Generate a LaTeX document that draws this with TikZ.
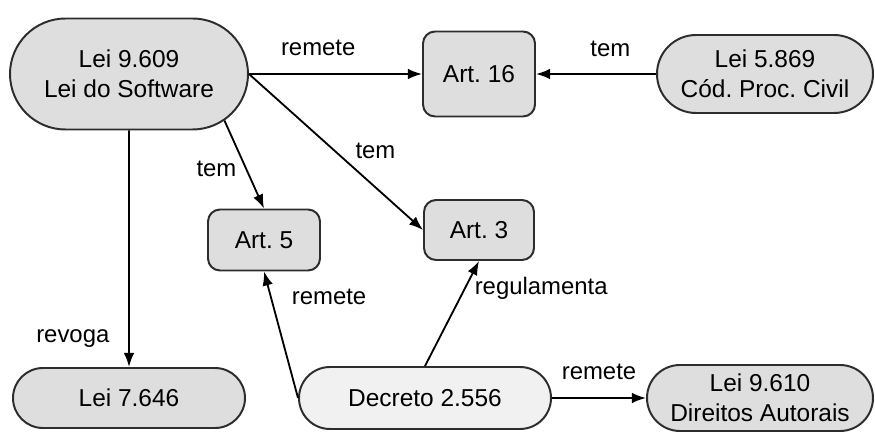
\documentclass[tikz,border=0pt]{standalone}
\usepackage{fontspec}
\setmainfont{Liberation Sans}
\usepackage{xcolor}
\usepackage{tikz}
\usetikzlibrary{shapes.misc,arrows.meta}
\frenchspacing
\definecolor{leigray}{RGB}{222,222,222}
\definecolor{decgray}{RGB}{241,241,241}
\definecolor{bordagray}{RGB}{45,45,45}
\tikzstyle{lei} = [rounded rectangle, text centered, align=center, draw = bordagray, fill = leigray, line width=1.4pt, inner sep=0pt, font=\fontsize{17.4}{21.3}\selectfont]
\tikzstyle{artigo} = [rectangle, rounded corners=0.3cm, text centered, draw = bordagray, fill = leigray, line width=1.4pt, inner sep=0pt, font=\fontsize{17.4}{21.3}\selectfont]
\tikzstyle{decreto} = [lei, fill = decgray]
\tikzstyle{arrow} = [line width=1.3pt, ->, >={Latex[length=10pt,width=7.5pt]}]
\tikzstyle{rotulo} = [font=\fontsize{17}{20}\selectfont]

\begin{document}
\begin{tikzpicture}[node distance = 2cm]

\useasboundingbox (-3.225,1.85) rectangle (18.65,-8.95);

\node(lei9609) [lei, minimum width=5.95cm, minimum height=2.775cm] {Lei 9.609\\Lei do Software};
\node(art16)   [artigo, right of = lei9609, xshift=6.75cm, minimum width=2.8cm, minimum height=2.125cm] {Art. 16};
\node(lei5869) [lei, right of = art16, xshift=5.15cm, minimum width=5.4cm, minimum height=1.95cm] {Lei 5.869\\Cód. Proc. Civil};
\node(art3)    [artigo, below of = art16, yshift=-1.9cm, minimum width=2.75cm, minimum height=1.5cm] {Art. 3};
\node(art5)    [artigo, below of = lei9609, xshift=3.375cm, yshift=-2.15cm, minimum width=2.8cm, minimum height=1.525cm] {Art. 5};
\node(lei7646) [lei, below of = lei9609, yshift=-6.1cm, minimum width=5.8cm, minimum height=1.5cm] {Lei 7.646};
\node(dec2556) [decreto, right of = lei7646, xshift=5.4cm, minimum width=6.3cm, minimum height=1.55cm] {Decreto 2.556};
\node(lei9610) [lei, right of = dec2556, xshift=6.375cm, minimum width=5.65cm, minimum height=1.65cm] {Lei 9.610\\Direitos Autorais};

\draw [arrow] (lei9609) -- node[rotulo, above=9pt, pos=0.4]{remete} (art16);
\draw [arrow] (lei5869) -- node[rotulo, above=8pt, pos=0.38]{tem} (art16);
\draw [arrow] (lei9609.east) -- node[rotulo, above right=0pt, pos=0.58]{tem} (art3.west);
\draw [arrow] (lei9609.-26) -- node[rotulo, left=3pt, pos=0.55]{tem} (art5.north);
\draw [arrow] (lei9609) -- node[rotulo, left=10pt, pos=0.88]{revoga} (lei7646);
\draw [arrow] (dec2556.west) -- node[rotulo, right=11pt, pos=0.8]{remete} (art5.south);
\draw [arrow] (dec2556.north) -- node[rotulo, right=3pt, pos=0.74]{regulamenta} (art3.south);
\draw [arrow] (dec2556) -- node[rotulo, above=9pt]{remete} (lei9610);

\end{tikzpicture}
\end{document}
